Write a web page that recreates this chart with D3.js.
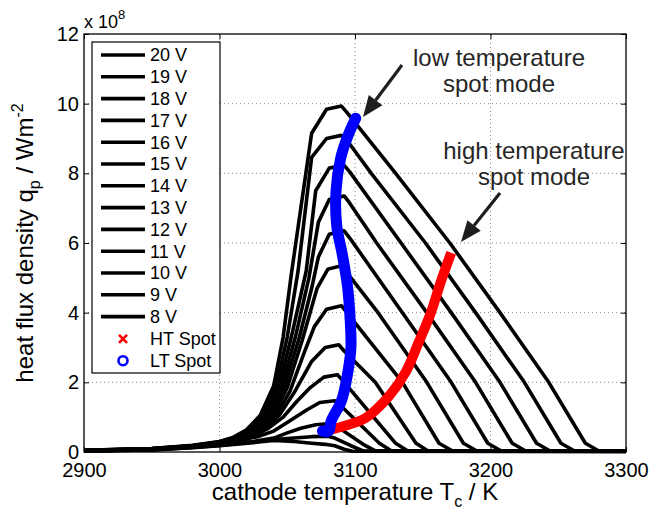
<!DOCTYPE html>
<html>
<head>
<meta charset="utf-8">
<script src="https://cdn.jsdelivr.net/npm/d3@7"></script>
<style>
  body { margin: 0; background: #fff; }
  svg text { font-family: "Liberation Sans", Arial, Helvetica, sans-serif; }
</style>
</head>
<body>
<svg id="chart" width="650" height="514"></svg>
<script>
/* ---------------- data (q in units of 1e8 W/m^2, T in K) ---------------- */

const voltageLabels = ["20 V", "19 V", "18 V", "17 V", "16 V", "15 V", "14 V",
                       "13 V", "12 V", "11 V", "10 V", "9 V", "8 V"];

const curve20 = [[2900,0.05],[2950,0.1],[2980,0.19],[3000,0.3],[3010,0.42],[3020,0.64],[3030,1.05],[3040,1.9],[3047,3.3],[3053,5.1],[3060,7.0],[3068,9.15],[3079,9.84],[3090,9.93],[3094,9.75],[3130,8.0],[3170,6.0],[3207,4.0],[3243,2.0],[3270,0.25],[3280,0.03],[3300,0.02]];
const curve19 = [[2900,0.05],[2950,0.1],[2980,0.18],[3000,0.29],[3012,0.43],[3022,0.66],[3032,1.05],[3042,1.9],[3050,3.3],[3058,5.2],[3068,8.46],[3079,9.0],[3090,9.09],[3095,8.9],[3112,8.0],[3152,6.0],[3189,4.0],[3225,2.0],[3252,0.25],[3262,0.03],[3300,0.02]];
const curve18 = [[2900,0.05],[2950,0.09],[2980,0.18],[3000,0.28],[3014,0.44],[3024,0.67],[3034,1.05],[3044,1.9],[3053,3.3],[3064,5.2],[3071,7.5],[3081,8.15],[3092,8.23],[3096,8.05],[3134,6.0],[3171,4.0],[3207,2.0],[3234,0.25],[3244,0.03],[3300,0.02]];
const curve17 = [[2900,0.04],[2950,0.09],[2980,0.17],[3000,0.27],[3016,0.45],[3026,0.68],[3036,1.05],[3046,1.9],[3056,3.3],[3066,5.0],[3073,6.6],[3081,7.25],[3092,7.35],[3096,7.15],[3116,6.0],[3153,4.0],[3189,2.0],[3216,0.25],[3226,0.03],[3300,0.02]];
const curve16 = [[2900,0.04],[2950,0.09],[2980,0.17],[3000,0.26],[3018,0.46],[3028,0.69],[3038,1.05],[3048,1.9],[3059,3.3],[3068,4.7],[3073,5.6],[3081,6.25],[3092,6.35],[3096,6.15],[3135,4.0],[3171,2.0],[3198,0.25],[3208,0.03],[3300,0.02]];
const curve15 = [[2900,0.04],[2950,0.08],[2980,0.16],[3000,0.25],[3020,0.47],[3030,0.7],[3040,1.05],[3050,1.85],[3061,3.2],[3072,4.7],[3080,5.25],[3090,5.35],[3094,5.15],[3117,4.0],[3153,2.0],[3180,0.25],[3190,0.03],[3300,0.02]];
const curve14 = [[2900,0.04],[2950,0.08],[2980,0.16],[3000,0.24],[3022,0.48],[3032,0.7],[3042,1.05],[3052,1.75],[3063,2.9],[3070,3.6],[3079,4.1],[3090,4.2],[3094,4.0],[3135,2.0],[3162,0.25],[3172,0.03],[3300,0.02]];
const curve13 = [[2900,0.04],[2950,0.08],[2980,0.15],[3000,0.23],[3024,0.48],[3034,0.7],[3044,1.05],[3055,1.7],[3068,2.6],[3078,3.0],[3088,3.08],[3092,2.9],[3115,2.0],[3145,0.25],[3154,0.03],[3300,0.02]];
const curve12 = [[2900,0.03],[2950,0.07],[2980,0.15],[3000,0.22],[3026,0.48],[3036,0.68],[3047,1.0],[3057,1.45],[3067,1.85],[3077,2.15],[3087,2.22],[3091,2.05],[3130,0.25],[3139,0.03],[3300,0.02]];
const curve11 = [[2900,0.03],[2950,0.07],[2980,0.14],[3000,0.21],[3028,0.44],[3040,0.6],[3052,0.9],[3064,1.2],[3074,1.42],[3085,1.47],[3089,1.35],[3118,0.25],[3127,0.03],[3300,0.02]];
const curve10 = [[2900,0.03],[2950,0.07],[2980,0.14],[3000,0.2],[3025,0.3],[3040,0.4],[3050,0.55],[3060,0.68],[3071,0.78],[3082,0.82],[3086,0.75],[3106,0.22],[3115,0.03],[3300,0.02]];
const curve9  = [[2900,0.03],[2950,0.06],[2980,0.13],[3000,0.19],[3025,0.29],[3040,0.36],[3055,0.4],[3068,0.44],[3080,0.45],[3085,0.4],[3097,0.18],[3106,0.03],[3300,0.02]];
const curve8  = [[2900,0.03],[2950,0.06],[2980,0.12],[3000,0.18],[3025,0.27],[3040,0.33],[3055,0.3],[3068,0.25],[3078,0.22],[3085,0.18],[3092,0.08],[3098,0.02],[3300,0.01]];

const curves = [curve20, curve19, curve18, curve17, curve16, curve15, curve14,
                curve13, curve12, curve11, curve10, curve9, curve8];

// high temperature spot (red x markers)
const htTemp = [3082, 3095, 3108, 3125, 3137.5, 3147, 3156, 3163, 3171];
const htFlux = [0.64, 0.78, 0.98, 1.6, 2.3, 3.15, 4.0, 4.85, 5.72];

// low temperature spot (blue o markers)
const ltTemp = [3076, 3079, 3081, 3082.5, 3090, 3094.5, 3097, 3096.5, 3094.5, 3090.5, 3086.5, 3086, 3089.5, 3095, 3100.5];
const ltFlux = [0.6, 0.58, 0.62, 0.9, 1.47, 2.24, 3.0, 3.75, 4.75, 5.7, 6.5, 7.5, 8.45, 9.1, 9.58];

const xTicks = [2900, 3000, 3100, 3200, 3300];
const yTicks = [0, 2, 4, 6, 8, 10, 12];
const xGrid = [3000, 3100, 3200];
const yGrid = [2, 4, 6, 8, 10];

/* ---------------- setup ---------------- */

const svg = d3.select("#chart");
const x = d3.scaleLinear().domain([2900, 3300]).range([84, 626]);
const y = d3.scaleLinear().domain([0, 12]).range([452, 34]);

const line = d3.line().x(d => x(d[0])).y(d => y(d[1]));

// grid
const grid = svg.append("g")
    .attr("stroke", "#8a8a8a")
    .attr("stroke-width", 1)
    .attr("stroke-dasharray", "1,3");

grid.selectAll("line.gx").data(xGrid).enter().append("line")
    .attr("x1", d => x(d)).attr("x2", d => x(d))
    .attr("y1", y(0)).attr("y2", y(12));

grid.selectAll("line.gy").data(yGrid).enter().append("line")
    .attr("x1", x(2900)).attr("x2", x(3300))
    .attr("y1", d => y(d)).attr("y2", d => y(d));

// curves
const clip = svg.append("clipPath").attr("id", "plotClip")
    .append("rect")
    .attr("x", x(2900)).attr("y", y(12))
    .attr("width", x(3300) - x(2900)).attr("height", y(0) - y(12) + 2);

const plot = svg.append("g").attr("clip-path", "url(#plotClip)");

plot.append("g")
    .selectAll("path")
    .data(curves)
    .enter()
    .append("path")
    .attr("d", line)
    .attr("fill", "none")
    .attr("stroke", "#000")
    .attr("stroke-width", 3.6)
    .attr("stroke-linejoin", "round");

// HT spot
const htPts = htTemp.map((t, i) => [t, htFlux[i]]);
plot.append("path")
    .attr("d", line.curve(d3.curveCatmullRom)(htPts))
    .attr("fill", "none")
    .attr("stroke", "#ff0000")
    .attr("stroke-width", 10)
    .attr("stroke-linecap", "butt");

// LT spot
const ltPts = ltTemp.map((t, i) => [t, ltFlux[i]]);
plot.append("path")
    .attr("d", line.curve(d3.curveCatmullRom)(ltPts))
    .attr("fill", "none")
    .attr("stroke", "#0000ff")
    .attr("stroke-width", 11)
    .attr("stroke-linecap", "round")
    .attr("stroke-linejoin", "round");
line.curve(d3.curveLinear);

/* ---------------- axes ---------------- */

function styleAxis(g) {
    g.select(".domain").remove();
    g.selectAll(".tick line").attr("stroke", "#000");
    g.selectAll(".tick text")
        .attr("fill", "#000")
        .style("font-size", "20px");
}

svg.append("g")
    .attr("transform", `translate(0,${y(0)})`)
    .call(d3.axisBottom(x).tickValues(xTicks).tickSize(-5).tickPadding(11).tickFormat(d3.format("d")))
    .call(styleAxis);

svg.append("g")
    .attr("transform", `translate(0,${y(12)})`)
    .call(d3.axisTop(x).tickValues(xTicks).tickSize(-5).tickFormat(""))
    .call(styleAxis);

svg.append("g")
    .attr("transform", `translate(${x(2900)},0)`)
    .call(d3.axisLeft(y).tickValues(yTicks).tickSize(-5).tickPadding(5))
    .call(styleAxis);

svg.append("g")
    .attr("transform", `translate(${x(3300)},0)`)
    .call(d3.axisRight(y).tickValues(yTicks).tickSize(-5).tickFormat(""))
    .call(styleAxis);

svg.append("rect")
    .attr("x", x(2900)).attr("y", y(12))
    .attr("width", x(3300) - x(2900)).attr("height", y(0) - y(12))
    .attr("fill", "none").attr("stroke", "#000").attr("stroke-width", 1.3);

// exponent
const expo = svg.append("text").attr("x", 84).attr("y", 28)
    .style("font-size", "18px").attr("fill", "#000");
expo.append("tspan").text("x 10");
expo.append("tspan").attr("dy", -9).style("font-size", "13px").text("8");

// axis labels
const xl = svg.append("text")
    .attr("x", (x(2900) + x(3300)) / 2).attr("y", 500)
    .attr("text-anchor", "middle").style("font-size", "24px").attr("fill", "#000");
xl.append("tspan").text("cathode temperature T");
xl.append("tspan").attr("dy", 7).style("font-size", "16px").text("c");
xl.append("tspan").attr("dy", -7).text(" / K");

const yl = svg.append("text")
    .attr("transform", `translate(33,${(y(0) + y(12)) / 2}) rotate(-90)`)
    .attr("text-anchor", "middle").style("font-size", "24px").attr("fill", "#000");
yl.append("tspan").text("heat flux density q");
yl.append("tspan").attr("dy", 7).style("font-size", "16px").text("p");
yl.append("tspan").attr("dy", -7).text(" / Wm");
yl.append("tspan").attr("dy", -10).style("font-size", "16px").text("-2");

/* ---------------- legend ---------------- */

const legend = svg.append("g");
legend.append("rect")
    .attr("x", 92).attr("y", 42).attr("width", 128).attr("height", 331)
    .attr("fill", "#fff").attr("stroke", "#000").attr("stroke-width", 1.2);

const rowY = i => 55 + i * 21.8;

const rows = legend.selectAll("g.row").data(voltageLabels).enter()
    .append("g").attr("transform", (d, i) => `translate(0,${rowY(i)})`);
rows.append("line")
    .attr("x1", 101).attr("x2", 145).attr("y1", 0).attr("y2", 0)
    .attr("stroke", "#000").attr("stroke-width", 3.6);
rows.append("text")
    .attr("x", 150).attr("y", 0).attr("dy", "0.36em")
    .style("font-size", "18px").text(d => d);

const htY = rowY(13) + 0.5, ltY = rowY(14) + 0.5;
legend.append("path")
    .attr("d", `M${123 - 4},${htY - 4}L${123 + 4},${htY + 4}M${123 - 4},${htY + 4}L${123 + 4},${htY - 4}`)
    .attr("stroke", "#ff0000").attr("stroke-width", 2.6);
legend.append("text").attr("x", 150).attr("y", htY).attr("dy", "0.36em")
    .style("font-size", "18px").text("HT Spot");
legend.append("circle").attr("cx", 123).attr("cy", ltY).attr("r", 4.5)
    .attr("fill", "none").attr("stroke", "#0000ff").attr("stroke-width", 2.6);
legend.append("text").attr("x", 150).attr("y", ltY).attr("dy", "0.36em")
    .style("font-size", "18px").text("LT Spot");

/* ---------------- annotations ---------------- */

function arrow(x1, y1, x2, y2) {
    const ang = Math.atan2(y2 - y1, x2 - x1);
    const len = 21, half = 8.5;
    const bx = x2 - len * Math.cos(ang), by = y2 - len * Math.sin(ang);
    svg.append("line")
        .attr("x1", x1).attr("y1", y1).attr("x2", bx).attr("y2", by)
        .attr("stroke", "#1e1e1e").attr("stroke-width", 3.2);
    svg.append("path")
        .attr("d", `M${x2},${y2}L${bx + half * Math.sin(ang)},${by - half * Math.cos(ang)}L${bx - half * Math.sin(ang)},${by + half * Math.cos(ang)}Z`)
        .attr("fill", "#1e1e1e");
}

function note(cx, y0, lines) {
    lines.forEach((t, i) => {
        svg.append("text").attr("x", cx).attr("y", y0 + i * 26)
            .attr("text-anchor", "middle").attr("fill", "#262626")
            .style("font-size", "24px").text(t);
    });
}

note(499, 66, ["low temperature", "spot mode"]);
arrow(402, 65, 363, 117);

note(534, 159, ["high temperature", "spot mode"]);
arrow(500, 193, 461, 242);
</script>
</body>
</html>
